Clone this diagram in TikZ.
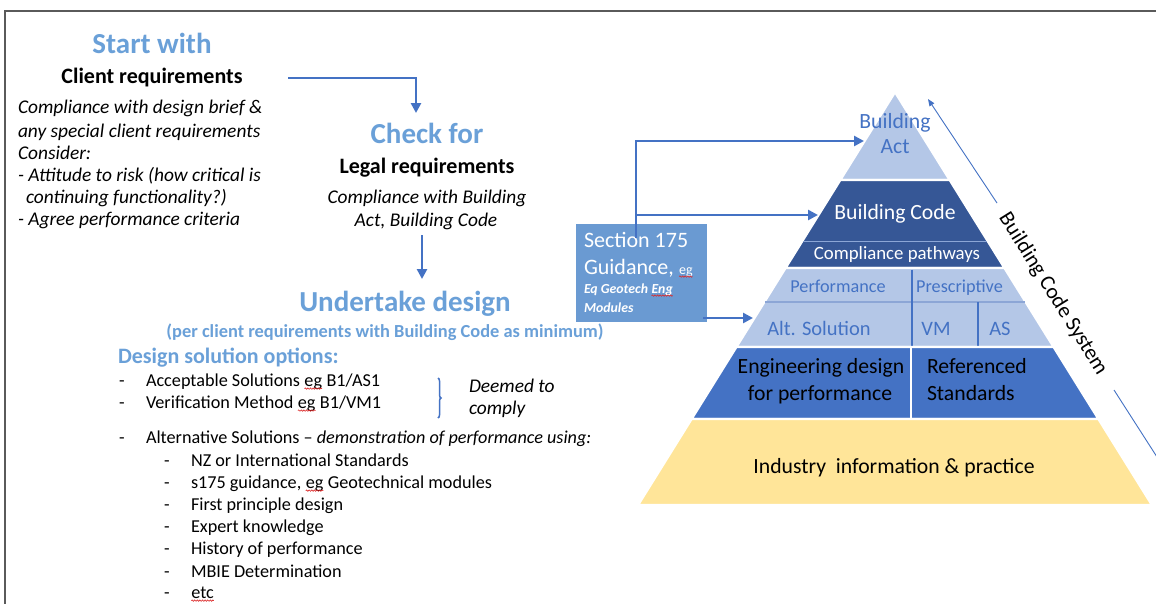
\documentclass[tikz,border=0pt]{standalone}
\usepackage{fontspec}
\setmainfont{Carlito}
\usetikzlibrary{arrows.meta,decorations.pathmorphing,decorations.pathreplacing}

\definecolor{headblue}{RGB}{106,160,216}
\definecolor{flowblue}{RGB}{68,114,196}
\definecolor{lightlayer}{RGB}{180,199,231}
\definecolor{darklayer}{RGB}{54,87,150}
\definecolor{midlayer}{RGB}{68,114,196}
\definecolor{baselayer}{RGB}{255,229,153}
\definecolor{guidebox}{RGB}{106,154,210}
\definecolor{framegray}{RGB}{90,90,90}
\definecolor{rowline}{RGB}{140,166,214}
\definecolor{spellred}{RGB}{220,40,40}

\newcommand\fs[1]{\fontsize{#1}{#1}\selectfont}
% word with a wavy spell-check underline
\newcommand\spell[1]{\tikz[baseline=(sw.base)]{%
  \node[inner sep=0pt,outer sep=0pt,anchor=base,draw=none,fill=none,font=] (sw) at (0,0) {#1};%
  \draw[spellred,line width=0.6pt,decorate,decoration={snake,amplitude=0.7pt,segment length=2.6pt}]
    ([yshift=-2.6pt]sw.base west) -- ([yshift=-2.6pt]sw.base east);}}

\tikzset{
  txt/.style={inner sep=0pt,outer sep=0pt,anchor=base west},
  ctxt/.style={inner sep=0pt,outer sep=0pt,anchor=base},
  head/.style={ctxt,font=\fs{29}\bfseries,text=headblue},
  sub/.style={ctxt,font=\fs{22}\bfseries},
  note/.style={txt,font=\fs{19.4}\itshape},
  cnote/.style={ctxt,font=\fs{19.4}\itshape},
  item/.style={txt,font=\fs{18.2}},
  flow/.style={flowblue,line width=2.9pt,-{Triangle[length=10pt,width=10pt]}},
  layer/.style={draw=white,line width=2.4pt,line join=miter},
  ptxt/.style={ctxt,font=\fs{21.7}},
}

\begin{document}
\begin{tikzpicture}[x=1pt,y=-1pt]
\useasboundingbox (0,0) rectangle (1156,603);
\fill[white] (0,0) rectangle (1156,603);

% frame
\draw[framegray,line width=1.6pt] (5,604) -- (5,11) -- (1157,11);

% ---------- client requirements ----------
\node[head] (start) at (152,53) {Start with};
\node[sub] (client) at (152,83) {Client requirements};
\node[note] (c1) at (18,113) {Compliance with design brief \&};
\node[note] (c2) at (18,137) {any special client requirements};
\node[note] (c3) at (18,159) {Consider:};
\node[note] (c4) at (18,181) {- Attitude to risk (how critical is};
\node[note] (c5) at (26,203) {continuing functionality?)};
\node[note] (c6) at (18,225) {- Agree performance criteria};

% ---------- legal requirements ----------
\node[head] (check) at (427,143) {Check for};
\node[sub] (legal) at (427,173) {Legal requirements};
\node[cnote] (l1) at (427,203) {Compliance with Building};
\node[cnote] (l2) at (426,226) {Act, Building Code};

\coordinate (clientout) at (288,78);
\coordinate (checkin) at (416,113);
\draw[flow] (clientout) -| (checkin);
\coordinate (legalout) at (422,235);
\coordinate (designin) at (422,279);
\draw[flow] (legalout) -- (designin);

% ---------- design ----------
\node[head] (design) at (405,311) {Undertake design};
\node[ctxt,font=\fs{18.4}\bfseries,text=headblue] (per) at (385,337)
  {(per client requirements with Building Code as minimum)};
\node[txt,font=\fs{22}\bfseries,text=headblue] (options) at (118,363) {Design solution options:};

\node[item] (d1) at (119,386) {-};
\node[item] (o1) at (146,386) {Acceptable Solutions \spell{eg} B1/AS1};
\node[item] (d2) at (119,408) {-};
\node[item] (o2) at (146,408) {Verification Method \spell{eg} B1/VM1};
\node[item] (d3) at (119,443) {-};
\node[item] (o3) at (146,443) {Alternative Solutions -- \textit{demonstration of performance using:}};

\node[item] (e1) at (164,466) {-};
\node[item] (s1) at (191,466) {NZ or International Standards};
\node[item] (e2) at (164,488) {-};
\node[item] (s2) at (191,488) {s175 guidance, \spell{eg} Geotechnical modules};
\node[item] (e3) at (164,510) {-};
\node[item] (s3) at (191,510) {First principle design};
\node[item] (e4) at (164,532) {-};
\node[item] (s4) at (191,532) {Expert knowledge};
\node[item] (e5) at (164,554) {-};
\node[item] (s5) at (191,554) {History of performance};
\node[item] (e6) at (164,577) {-};
\node[item] (s6) at (191,577) {MBIE Determination};
\node[item] (e7) at (164,598) {-};
\node[item] (s7) at (191,598) {\spell{etc}};

\coordinate (bracetop) at (438,378);
\coordinate (bracebot) at (438,418);
\draw[flowblue,line width=1.5pt,decorate,decoration={brace,amplitude=3pt,aspect=0.5}] (bracetop) -- (bracebot);
\node[note] (deemed) at (469,392) {Deemed to};
\node[note] (comply) at (469,414) {comply};

% ---------- pyramid ----------
\fill[lightlayer,layer] (895,92) -- (949.76,180) -- (840.24,180) -- cycle;
\fill[darklayer,layer] (840.24,180) -- (949.76,180) -- (1004.52,268) -- (785.48,268) -- cycle;
\draw[rowline,line width=0.9pt] (802.9,241) -- (987.1,241);
\fill[lightlayer,layer] (785.48,268) -- (1004.52,268) -- (1053.68,347) -- (736.32,347) -- cycle;
\draw[rowline,line width=1.1pt] (765.2,302) -- (1024.8,302);
\draw[flowblue,line width=2.6pt] (912,269.5) -- (912,345.5);
\draw[flowblue,line width=1.2pt] (978,302) -- (978,345.5);
\fill[midlayer,layer] (736.32,347) -- (1053.68,347) -- (1098.49,419) -- (691.51,419) -- cycle;
\draw[white,line width=1.6pt] (911,347) -- (911,419);
\fill[baselayer,layer] (691.51,419) -- (1098.49,419) -- (1152,505) -- (638,505) -- cycle;

\node[ptxt,text=midlayer] (act1) at (895,128) {Building};
\node[ptxt,text=midlayer] (act2) at (895,153) {Act};
\node[ptxt,text=white] (code) at (895,219) {Building Code};
\node[ctxt,font=\fs{18.8},text=white] (paths) at (897,259) {Compliance pathways};
\node[ctxt,font=\fs{18.2},text=flowblue] (perf) at (838,292) {Performance};
\node[ctxt,font=\fs{18.2},text=flowblue] (presc) at (959.5,292) {Prescriptive};
\node[ctxt,font=\fs{20.5},text=flowblue] (alt) at (819,335) {Alt. Solution};
\node[ctxt,font=\fs{20.5},text=flowblue] (vm) at (936,335) {VM};
\node[ctxt,font=\fs{20.5},text=flowblue] (as) at (1000,335) {AS};
\node[ptxt] (eng1) at (821,373) {Engineering design};
\node[ptxt] (eng2) at (820,400) {for performance};
\node[txt,font=\fs{21.7}] (ref1) at (927,373) {Referenced};
\node[txt,font=\fs{21.7}] (ref2) at (927,400) {Standards};
\node[ptxt] (industry) at (894,473) {Industry\ \ information \& practice};

% system label along the right side
\node[inner sep=0pt,font=\fs{21.5},rotate=-58] (system) at (1053,294) {Building Code System};
\coordinate (sysup) at (997,203);
\coordinate (systop) at (928,99);
\coordinate (syslow) at (1114,390);
\coordinate (sysend) at (1157,457);
\draw[flowblue,line width=0.9pt,-{Triangle[length=7pt,width=5.5pt]}] (sysup) -- (systop);
\draw[flowblue,line width=0.9pt] (syslow) -- (sysend);

% ---------- section 175 guidance ----------
\node[fill=guidebox,inner sep=0pt,minimum width=131pt,minimum height=98pt,anchor=north west] (s175) at (576,224) {};
\node[txt,font=\fs{22},text=white] (g1) at (584,247) {Section 175};
\node[txt,font=\fs{22},text=white] (g2) at (584,274) {Guidance, {\fs{14}\spell{eg}}};
\node[txt,font=\fs{13.8}\bfseries\itshape,text=white] (g3) at (584,293) {Eq Geotech \spell{Eng}};
\node[txt,font=\fs{13.8}\bfseries\itshape,text=white] (g4) at (584,312) {Modules};

\coordinate (s175up) at (636,238);
\coordinate (actedge) at (864,141);
\coordinate (codeedge) at (818,215);
\coordinate (s175out) at (703,318);
\coordinate (altedge) at (753,318);
\draw[flow] (s175up) |- (actedge);
\draw[flow] (s175up |- codeedge) -- (codeedge);
\draw[flow] (s175out) -- (altedge);
\end{tikzpicture}
\end{document}
